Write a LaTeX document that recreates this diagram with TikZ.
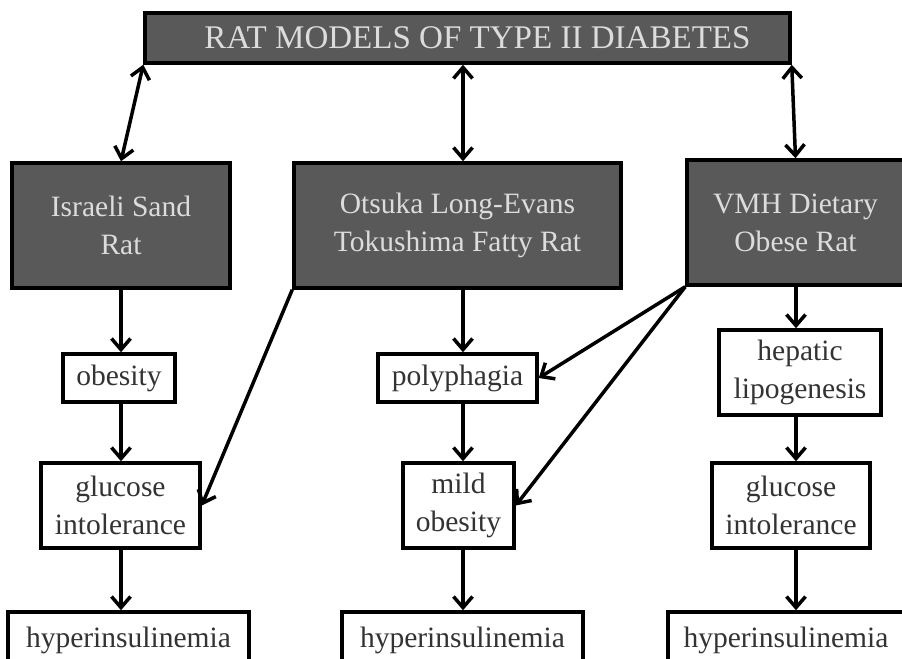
\documentclass[tikz,border=0pt]{standalone}
\usepackage{fontspec}
\setmainfont{Liberation Serif}
\usetikzlibrary{arrows.meta}
\definecolor{ratgray}{HTML}{595959}
\definecolor{ratink}{HTML}{DCDCDC}
\definecolor{effink}{HTML}{333333}

\begin{document}
\begin{tikzpicture}[
    ratbox/.style={draw=black, fill=ratgray, text=ratink, line width=0.07cm, inner sep=0pt, align=center, font=\fontsize{16.8}{21.6}\selectfont},
    effbox/.style={draw=black, fill=white, text=effink, line width=0.07cm, inner sep=0pt, align=center, font=\fontsize{16.8}{21.6}\selectfont},
    link/.style={line width=0.07cm, -{Straight Barb[length=0.22cm,width=0.38cm]}},
    twolink/.style={line width=0.07cm, {Straight Barb[length=0.22cm,width=0.38cm]}-{Straight Barb[length=0.22cm,width=0.38cm]}}
  ]
  \useasboundingbox (0,0) rectangle (18.04,13.16);

	% models
	\node[ratbox, minimum width=12.9cm, minimum height=1cm, font=\fontsize{18.8}{22}\selectfont] (top) at (9.35,12.4) {\hspace*{0.4cm}RAT MODELS OF TYPE II DIABETES};
	\node[ratbox, minimum width=4.36cm, minimum height=2.5cm] (rat1) at (2.42,8.65) {Israeli Sand\\Rat};
	\node[ratbox, minimum width=6.54cm, minimum height=2.5cm] (rat2) at (9.15,8.65) {Otsuka Long-Evans\\Tokushima Fatty Rat};
	\node[ratbox, minimum width=4.34cm, minimum height=2.5cm] (rat3) at (15.91,8.71) {VMH Dietary\\Obese Rat};

	% effects
	\node[effbox, minimum width=2.24cm, minimum height=0.96cm] (obes) at (2.38,5.6) {obesity};
	\node[effbox, minimum width=3.18cm, minimum height=1.7cm] (gluc1) at (2.41,3.05) {glucose\\intolerance};
	\node[effbox, minimum width=3.18cm, minimum height=0.96cm] (poly) at (9.15,5.6) {polyphagia};
	\node[effbox, minimum width=2.22cm, minimum height=1.7cm] (mild) at (9.17,3.05) {mild\\obesity};
	\node[effbox, minimum width=3.24cm, minimum height=1.7cm] (hep) at (16.0,5.71) {hepatic\\lipogenesis};
	\node[effbox, minimum width=3.16cm, minimum height=1.7cm] (gluc3) at (15.82,3.05) {glucose\\intolerance};
	\foreach \x/\w [count=\i] in {2.57/4.82, 9.25/4.82, 15.72/4.72}
	    {
		  \node[effbox, minimum width=\w cm, minimum height=1.12cm] (hyp\i) at (\x,0.36) {hyperinsulinemia};
	    }

	\coordinate (col2) at (9.26,0);
	\coordinate (col3) at (15.92,0);

	\draw [twolink] (top.south west) -- (rat1.north);
	\draw [twolink] (top.south -| col2) -- (rat2.north -| col2);
	\draw [twolink] (top.south east) -- (rat3.north);

	\draw [link] (rat1.south) -- (rat1.south |- obes.north);
	\draw [link] (obes.south -| rat1.south) -- (gluc1.north -| rat1.south);
	\draw [link] (gluc1.south -| rat1.south) -- (hyp1.north -| rat1.south);
	\draw [link] (rat2.south west) -- (gluc1.east);

	\draw [link] (rat2.south -| col2) -- (poly.north -| col2);
	\draw [link] (poly.south -| col2) -- (mild.north -| col2);
	\draw [link] (mild.south -| col2) -- (hyp2.north -| col2);

	\draw [link] (rat3.south -| col3) -- (hep.north -| col3);
	\draw [link] (hep.south -| col3) -- (gluc3.north -| col3);
	\draw [link] (gluc3.south -| col3) -- (hyp3.north -| col3);
	\draw [link] (rat3.south west) -- (poly.east);
	\draw [link] (rat3.south west) -- (mild.east);
\end{tikzpicture}
\end{document}
